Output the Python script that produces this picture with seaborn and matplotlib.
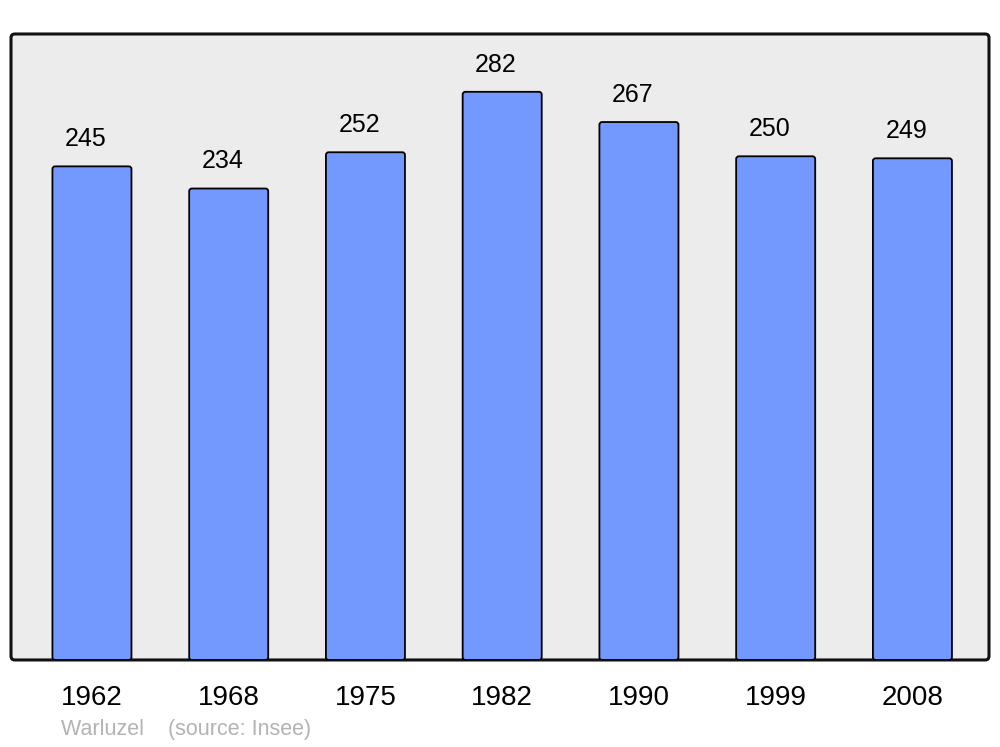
import matplotlib
matplotlib.use("Agg")
import matplotlib.pyplot as plt
import seaborn as sns
import pandas as pd
from matplotlib.patches import FancyBboxPatch

years = ["1962", "1968", "1975", "1982", "1990", "1999", "2008"]
population = [245, 234, 252, 282, 267, 250, 249]

bar_color = "#7399ff"
bg_color = "#ececec"

sns.set_theme(style="white")
plt.rcParams["font.family"] = ["Liberation Sans", "DejaVu Sans"]

df = pd.DataFrame({"year": years, "pop": population})

fig = plt.figure(figsize=(10, 7.47), dpi=100)
ax = fig.add_axes([0.011, 0.1165, 0.978, 0.838])

sns.barplot(data=df, x="year", y="pop", color=bar_color, saturation=1,
            width=0.578, edgecolor="black", linewidth=1.3, ax=ax, zorder=3)

ax.set_xlim(-0.592, 6.56)
ax.set_ylim(0, 310.7)

# swap plain rectangles for slightly rounded ones
asp = 136.75 / 2.015
for p in list(ax.patches):
    x, y, w, h = p.get_x(), p.get_y(), p.get_width(), p.get_height()
    rp = FancyBboxPatch((x, y), w, h, boxstyle="round,pad=0,rounding_size=0.02",
                        mutation_aspect=asp, facecolor=bar_color,
                        edgecolor="black", linewidth=1.3, zorder=3)
    p.remove()
    ax.add_patch(rp)
    ax.annotate(f"{int(round(h))}", (x + w / 2, h), xytext=(-4.5, 11),
                textcoords="offset points", ha="center", va="bottom",
                fontsize=18, color="black")

ax.set_facecolor("none")
for s in ax.spines.values():
    s.set_visible(False)
frame = FancyBboxPatch((0, 0), 1, 1, boxstyle="round,pad=0,rounding_size=0.004",
                       transform=ax.transAxes, facecolor=bg_color,
                       edgecolor="#111111", linewidth=2.2, zorder=0,
                       mutation_aspect=978 / 626, clip_on=False)
ax.add_patch(frame)

ax.set_xlabel("")
ax.set_ylabel("")
ax.set_yticks([])
ax.tick_params(axis="x", length=0, pad=18, labelsize=20, labelcolor="black")
for t in ax.get_xticklabels():
    t.set_x(t.get_position()[0])

fig.text(0.061, 0.0228, "Warluzel    (source: Insee)", color="#b3b3b3",
         fontsize=15.5, ha="left", va="center")

fig.savefig("out.png", dpi=100, facecolor="white")
